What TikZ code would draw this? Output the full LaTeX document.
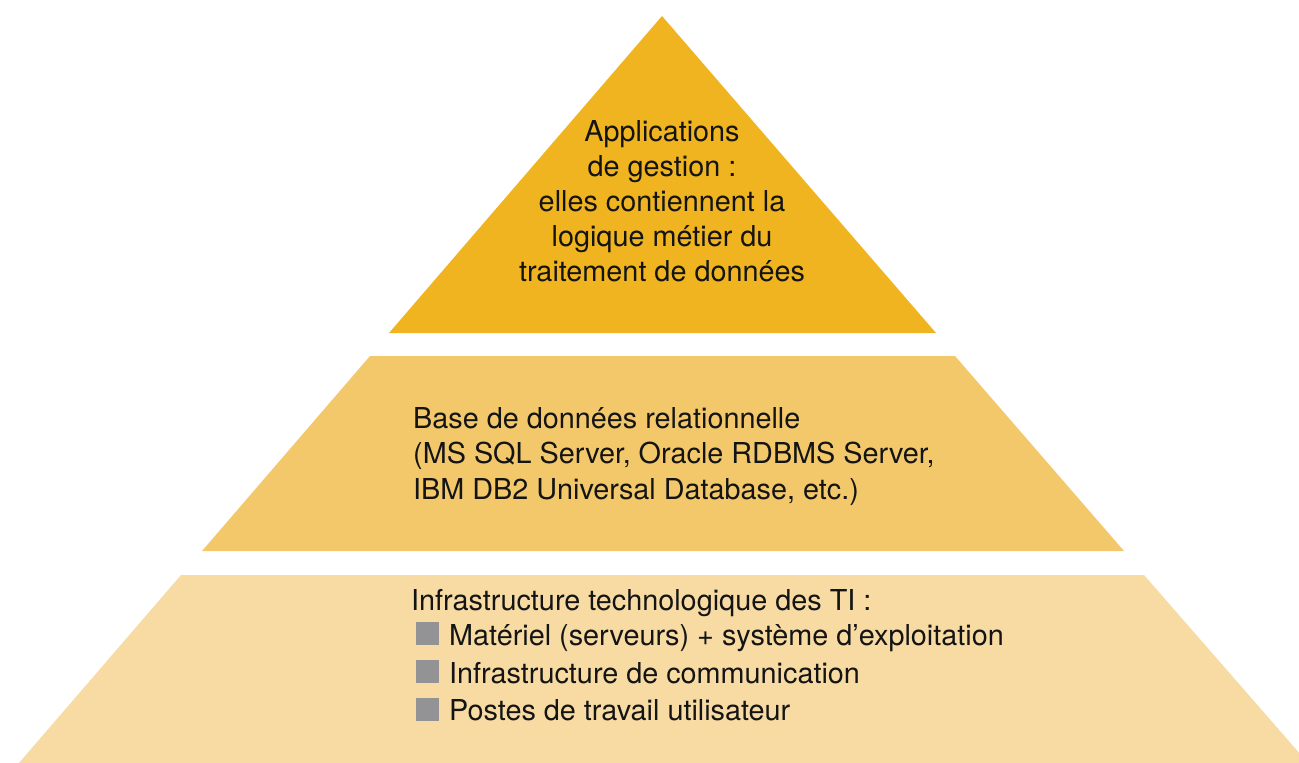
\documentclass[tikz,border=0pt]{standalone}
\usepackage{fontspec}
\setmainfont{TeX Gyre Heros}
\definecolor{tierA}{HTML}{EFB41F}
\definecolor{tierB}{HTML}{F2C86B}
\definecolor{tierC}{HTML}{F7DBA3}
\definecolor{bulletgrey}{HTML}{939395}
\definecolor{ink}{HTML}{141414}
\begin{document}
\begin{tikzpicture}[x=1pt,y=-1pt,
  lbl/.style={inner sep=0pt,text=ink,font=\fontsize{28.8}{35}\selectfont},
  ctr/.style={lbl,anchor=base},
  lft/.style={lbl,anchor=base west},
  sq/.style={fill=bulletgrey,draw=none}]
\useasboundingbox (0,0) rectangle (1299,763);
\clip (0,0) rectangle (1299,763);

% three tiers of the pyramid
\fill[tierA] (662,16) -- (936,333) -- (389,333) -- cycle;
\fill[tierB] (370,356) -- (955,356) -- (1124,551) -- (202,551) -- cycle;
\fill[tierC] (181,575) -- (1144,575) -- (1308,763) -- (19,763) -- cycle;

% top tier
\node[ctr] (a1) at (662,141.7) {Applications};
\node[ctr] (a2) at (662,176.7) {de gestion :};
\node[ctr] (a3) at (662,211.7) {elles contiennent la};
\node[ctr] (a4) at (662,246.7) {logique métier du};
\node[ctr] (a5) at (662,281.7) {traitement de données};

% middle tier
\node[lft] (b1) at (413,428) {Base de données relationnelle};
\node[lft] (b2) at (413,463.5) {(MS SQL Server, Oracle RDBMS Server,};
\node[lft] (b3) at (413,499) {IBM DB2 Universal Database, etc.)};

% bottom tier
\node[lft] (c0) at (411,610) {Infrastructure technologique des TI :};
\fill[sq] (416,622) rectangle (439,645);
\node[lft] (c1) at (449,645) {Matériel (serveurs) + système d’exploitation};
\fill[sq] (416,660) rectangle (439,683);
\node[lft] (c2) at (449,683) {Infrastructure de communication};
\fill[sq] (416,698) rectangle (439,721);
\node[lft] (c3) at (449,720) {Postes de travail utilisateur};
\end{tikzpicture}
\end{document}
